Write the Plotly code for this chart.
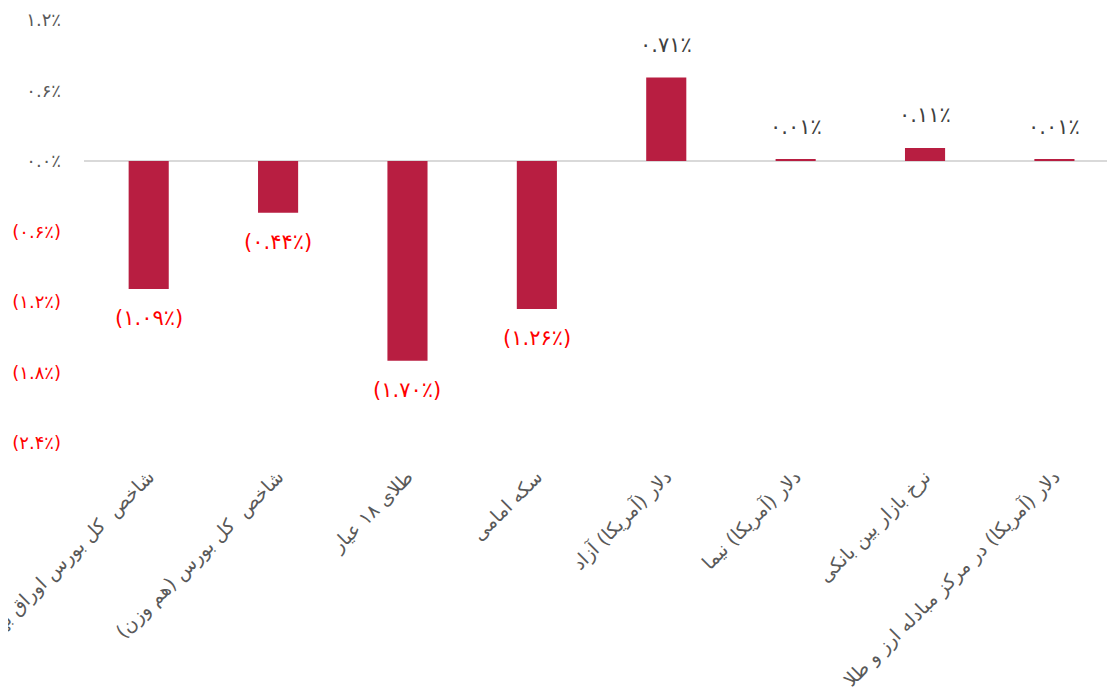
import plotly.graph_objects as go

categories = [
    "شاخص  کل بورس اوراق بهادار",
    "شاخص  کل بورس (هم وزن)",
    "طلای ۱۸ عیار",
    "سکه امامی",
    "دلار (آمریکا) آزاد",
    "دلار (آمریکا) نیما",
    "نرخ بازار بین بانکی",
    "دلار (آمریکا) در مرکز مبادله ارز و طلا",
]
values = [-1.09, -0.44, -1.70, -1.26, 0.71, 0.01, 0.11, 0.01]
tick_values = [1.2, 0.6, 0.0, -0.6, -1.2, -1.8, -2.4]

FA = str.maketrans("0123456789", "۰۱۲۳۴۵۶۷۸۹")


def fmt(v, dec):
    s = f"{abs(v):.{dec}f}".translate(FA) + "٪"
    return f"({s})" if v < 0 else s


RED = "#FF0000"
GRAY = "#595959"
BAR = "#B81E41"
FONT = "DejaVu Sans"

tick_text = [
    f'<span style="color:{RED}">{fmt(t, 1)}</span>' if t < 0 else fmt(t, 1)
    for t in tick_values
]

fig = go.Figure()
fig.add_trace(go.Bar(
    x=list(range(len(categories))), y=values,
    marker=dict(color=BAR, line=dict(width=0)),
    hoverinfo="skip",
))

for i, v in enumerate(values):
    fig.add_annotation(
        x=i, y=v, text=fmt(v, 2), showarrow=False,
        yanchor="top" if v < 0 else "bottom",
        yshift=-15 if v < 0 else 19,
        font=dict(family=FONT, size=21, color=RED if v < 0 else "#404040"),
    )

fig.update_layout(
    width=1115, height=695,
    margin=dict(l=76, r=0, t=12, b=260),
    paper_bgcolor="white", plot_bgcolor="white",
    bargap=0.69, showlegend=False,
    font=dict(family=FONT, size=18, color=GRAY),
    xaxis=dict(
        tickmode="array", tickvals=list(range(len(categories))), ticktext=categories,
        range=[-0.5, 7.53], tickangle=-45, showgrid=False, zeroline=False,
        showline=False, ticks="", automargin=False, ticklabeloverflow="allow",
        ticklabelstandoff=18,
        tickfont=dict(family=FONT, size=19, color=GRAY),
    ),
    yaxis=dict(
        range=[-2.4, 1.2], tickmode="array", tickvals=tick_values, ticktext=tick_text,
        showgrid=False, zeroline=True, zerolinecolor="#D9D9D9", zerolinewidth=1.5,
        showline=False, ticks="", automargin=False, ticklabelstandoff=22,
        tickfont=dict(family=FONT, size=18, color=GRAY),
    ),
)

fig.write_html("out.html")
